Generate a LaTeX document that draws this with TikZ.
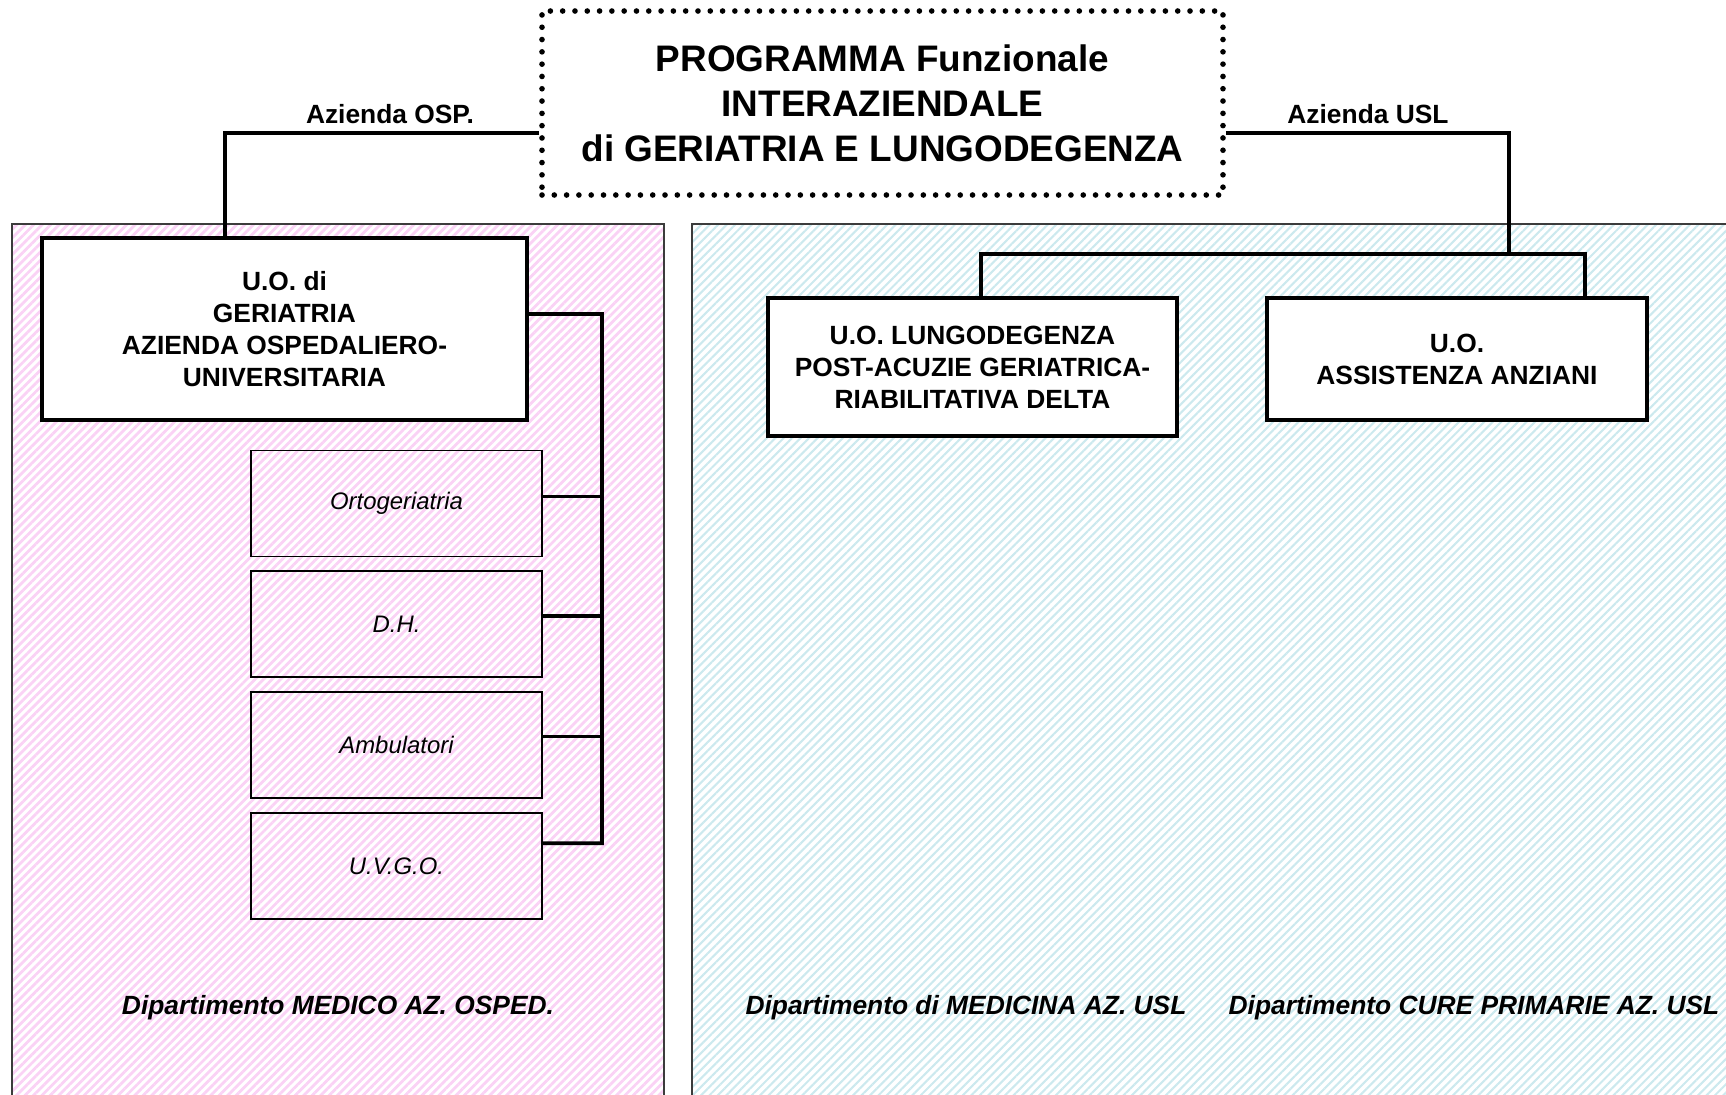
\documentclass[tikz,border=0pt]{standalone}
\usepackage{fontspec}
\setmainfont{Liberation Sans}
\usetikzlibrary{patterns.meta}
\definecolor{ospPink}{RGB}{250,210,245}
\definecolor{uslTeal}{RGB}{204,233,238}
\definecolor{zoneGray}{RGB}{60,60,60}
\newcommand{\BoxFont}{\fontsize{7.5}{9.1}\selectfont\bfseries}

\begin{document}
\begin{tikzpicture}[x=0.1mm,y=-0.1mm,
  zone/.style={draw=zoneGray,line width=0.45pt},
  unitbox/.style={draw,line width=1pt,fill=white,align=center,inner sep=0pt,font=\BoxFont},
  subbox/.style={draw,line width=0.5pt,minimum width=29.1mm,minimum height=10.6mm,inner sep=0pt,font=\fontsize{6.8}{8}\selectfont\itshape},
  link/.style={line width=1.1pt},
  linklabel/.style={font=\BoxFont},
  deptlabel/.style={font=\fontsize{7.5}{9}\selectfont\bfseries\itshape}]
\path[use as bounding box,clip] (0,0) rectangle (1726,1095);
\pattern[zone,pattern={Lines[angle=45,distance=1.7pt,line width=0.8pt]},pattern color=ospPink] (12,224) rectangle (664,1110);
\pattern[zone,pattern={Lines[angle=45,distance=1.7pt,line width=0.6pt]},pattern color=uslTeal] (692,224) rectangle (1740,1110);
\node[draw,line width=1.6pt,dash pattern=on 0pt off 3.5pt,line cap=round,minimum width=68.1mm,minimum height=18.4mm,align=center,font=\fontsize{10.5}{12.8}\selectfont\bfseries] (programma) at (882.5,103) {PROGRAMMA Funzionale\\INTERAZIENDALE\\di GERIATRIA E LUNGODEGENZA};
\node[unitbox,minimum width=48.5mm,minimum height=18.2mm] (geriatria) at (284.5,329) {U.O. di\\GERIATRIA\\AZIENDA OSPEDALIERO-\\UNIVERSITARIA};
\node[unitbox,minimum width=40.9mm,minimum height=13.8mm] (lungodegenza) at (972.5,367) {U.O. LUNGODEGENZA\\POST-ACUZIE GERIATRICA-\\RIABILITATIVA DELTA};
\node[unitbox,minimum width=38mm,minimum height=12.2mm] (anziani) at (1457,359) {U.O.\\ASSISTENZA ANZIANI};
\node[subbox] (orto) at (396.5,503.5) {Ortogeriatria};
\node[subbox] (dh) at (396.5,624) {D.H.};
\node[subbox] (ambulatori) at (396.5,745) {Ambulatori};
\node[subbox] (uvgo) at (396.5,866) {U.V.G.O.};
\node[linklabel] (ospLabel) at (390,114) {Azienda OSP.};
\node[linklabel] (uslLabel) at (1368,114) {Azienda USL};
\coordinate (uslJoint) at (1509,254);
\coordinate (spineTop) at (602,314);
\draw[link] ([yshift=-3mm]programma.west) -| ([xshift=-5.95mm]geriatria.north);
\draw[link] ([yshift=-3mm]programma.east) -| (uslJoint);
\draw[link] ([xshift=0.85mm]lungodegenza.north) |- (uslJoint) -| ([xshift=12.8mm]anziani.north);
\draw[link] ([yshift=1.5mm]geriatria.east) -- (spineTop) |- ([yshift=2.27mm]uvgo.east);
\draw[link] ([yshift=0.7mm]orto.east) -- ([yshift=0.7mm]orto.east -| spineTop);
\draw[link] ([yshift=0.8mm]dh.east) -- ([yshift=0.8mm]dh.east -| spineTop);
\draw[link] ([yshift=0.85mm]ambulatori.east) -- ([yshift=0.85mm]ambulatori.east -| spineTop);
\node[deptlabel] (deptOsp) at (338,1008) {Dipartimento MEDICO AZ. OSPED.};
\node[deptlabel] (deptMed) at (966,1008) {Dipartimento di MEDICINA AZ. USL};
\node[deptlabel] (deptCure) at (1474,1008) {Dipartimento CURE PRIMARIE AZ. USL};
\end{tikzpicture}
\end{document}
